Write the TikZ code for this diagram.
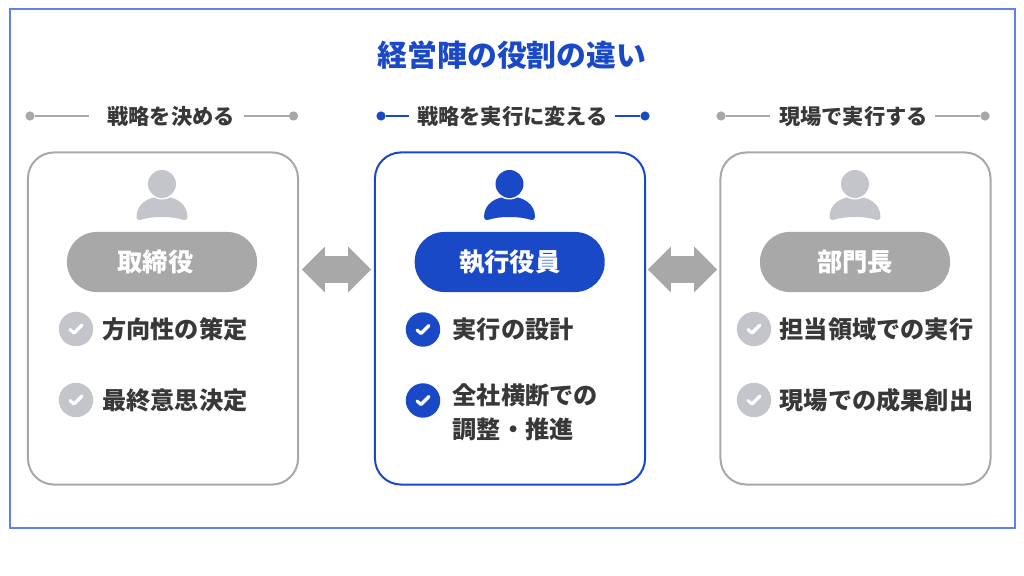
\documentclass[tikz,border=0pt]{standalone}
\usepackage{fontspec}
\setmainfont{Noto Sans CJK JP}
\usetikzlibrary{shapes.arrows}

\definecolor{roleblue}{HTML}{1A49C8}
\definecolor{frameblue}{HTML}{5F82E4}
\definecolor{rolegray}{HTML}{A8A8A8}
\definecolor{softgray}{HTML}{C3C5CA}
\definecolor{inkgray}{HTML}{383838}

\tikzset{
	card/.style = {draw, line width = 0.05cm, rounded corners = 0.65cm, minimum width = 6.75cm, minimum height = 8.3cm, inner sep = 0},
	pill/.style = {rounded corners = 0.74cm, minimum width = 4.75cm, minimum height = 1.5cm, inner sep = 0, text = white, font = \fontsize{18}{20}\selectfont\bfseries},
	lead/.style = {circle, minimum size = 0.23cm, inner sep = 0},
	leadline/.style = {line width = 0.06cm},
	leadtext/.style = {text = inkgray, inner sep = 0, font = \fontsize{15.1}{18}\selectfont\bfseries},
	swap/.style = {double arrow, fill = rolegray, double arrow head extend = 0.24cm, minimum height = 1.73cm, minimum width = 1.13cm, inner xsep = 0, inner ysep = 0.325cm},
	tick/.style = {circle, minimum size = 0.86cm, inner sep = 0},
	item/.style = {anchor = west, align = left, inner sep = 0, text = inkgray, font = \fontsize{17.2}{24}\selectfont\bfseries},
	person/.pic = {
		\fill (-25.5, 33) .. controls (-25.5, 20) and (-14, 12.5) .. (0, 12.5) .. controls (14, 12.5) and (25.5, 20) .. (25.5, 33) .. controls (25.5, 35.5) and (24, 36) .. (22, 36) .. controls (10, 32) and (-10, 32) .. (-22, 36) .. controls (-24, 36) and (-25.5, 35.5) .. cycle;
		\fill[white] (0, 0) circle (15.5);
		\fill (0, 0) circle (14);
	},
	tickmark/.pic = {
		\draw[white, line width = 0.08cm, line cap = round, line join = round] (-6, 0.5) -- (-2, 4) -- (6, -4);
	}
}

\begin{document}
\begin{tikzpicture}[x = 0.025cm, y = -0.025cm]
	\useasboundingbox (0, 0) rectangle (1024, 576);
	\draw[frameblue, line width = 0.028cm] (10, 9) rectangle (1015, 528);
	\node[text = roleblue, inner sep = 0, font = \fontsize{21.2}{24}\selectfont\bfseries] (title) at (512, 55) {経営陣の役割の違い};

	\foreach \name/\x/\col in {board/163/rolegray, exec/510/roleblue, head/855.5/rolegray}
	\node[card, draw = \col] (card\name) at (\x, 318.5) {};
	\foreach \name/\x/\col/\role in {board/162/rolegray/取締役\hspace*{0.325cm}, exec/509.7/roleblue/執行役員, head/855/rolegray/部門長}
	\node[pill, fill = \col] (pill\name) at (\x, 262) {\role};
	\foreach \x/\col in {162/softgray, 509.5/roleblue, 855/softgray}
	\pic[\col] at (\x, 184) {person};

	\foreach \name/\a/\b/\c/\d/\col/\tx/\txt in {
		board/30/89/244/293.5/rolegray/171/戦略を決める,
		exec/381/409/615/645/roleblue/512.5/戦略を実行に変える,
		head/721/770/935/985/rolegray/853.5/現場で実行する} {
		\node[leadtext] (leadtext\name) at (\tx, 116.5) {\txt};
		\node[lead, fill = \col] (leadl\name) at (\a, 116) {};
		\coordinate (leadlend\name) at (\b, 116);
		\coordinate (leadrend\name) at (\c, 116);
		\node[lead, fill = \col] (leadr\name) at (\d, 116) {};
		\draw[leadline, \col] (leadl\name) -- (leadlend\name);
		\draw[leadline, \col] (leadrend\name) -- (leadr\name);
	}

	\node[swap] (swapl) at (336.5, 269.5) {};
	\node[swap] (swapr) at (682.5, 269.5) {};

	\foreach \name/\x/\y/\col in {
		boarda/76/329/softgray,
		boardb/76/400/softgray,
		execa/423/329.5/roleblue,
		execb/423/400.5/roleblue,
		heada/754/329/softgray,
		headb/754/400/softgray} {
		\node[tick, fill = \col] (tick\name) at (\x, \y) {};
		\pic at (tick\name) {tickmark};
	}
	\node[item] (itemboarda) at (102, 329) {方向性の策定};
	\node[item] (itemboardb) at (102, 400) {最終意思決定};
	\node[item] (itemexeca) at (452.5, 329) {実行の設計};
	\node[item, anchor = north west] (itemexecb) at (452.5, 383.5) {全社横断での\\調整・推進};
	\node[item] (itemheada) at (779.5, 329) {担当領域での実行};
	\node[item] (itemheadb) at (779.5, 400) {現場での成果創出};
\end{tikzpicture}
\end{document}
